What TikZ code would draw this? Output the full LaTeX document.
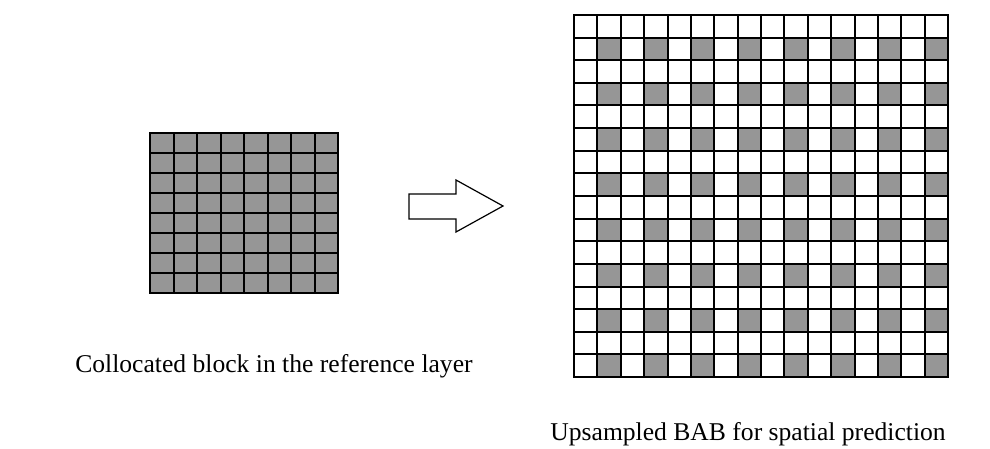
\documentclass[tikz,border=0pt]{standalone}
\usepackage{fontspec}
\setmainfont{Liberation Serif}
\usepackage{tikz}
\usetikzlibrary{positioning}
\definecolor{cellgray}{RGB}{150,150,150}

\begin{document}
\begin{tikzpicture}[
  x=0.5pt, y=-0.5pt,
  lcell/.style={draw, line width=1pt, fill=cellgray, inner sep=0pt, outer sep=0pt,
    minimum width=11.75pt, minimum height=10pt},
  rcell/.style={draw, line width=1pt, inner sep=0pt, outer sep=0pt,
    minimum width=11.6875pt, minimum height=11.3125pt},
  caption/.style={font=\fontsize{12.8}{15}\selectfont, inner sep=0pt}
]
  \useasboundingbox (0,0) rectangle (990,449);

  % Collocated 8x8 block
  \foreach \i in {0,...,7} {
    \foreach \j in {0,...,7} {
      \node[lcell] (l\i-\j) at ({150+23.5*(\j+0.5)}, {133+20*(\i+0.5)}) {};
    }
  }

  % Upsampled 16x16 block
  \foreach \i in {0,...,15} {
    \foreach \j in {0,...,15} {
      \pgfmathtruncatemacro\g{and(isodd(\i),isodd(\j))}
      \ifnum\g=1 \def\cf{cellgray}\else\def\cf{white}\fi
      \node[rcell, fill=\cf] (r\i-\j) at ({574+23.375*(\j+0.5)}, {15+22.625*(\i+0.5)}) {};
    }
  }

  % Block arrow
  \draw[line width=0.6pt] (409,194) -- (456,194) -- (456,180) -- (503,206)
    -- (456,232) -- (456,219) -- (409,219) -- cycle;

  % Captions
  \node[caption, anchor=base east] (lcap) at (473,372) {Collocated block in the reference layer};
  \node[caption, anchor=base west] (rcap) at (550,440) {Upsampled BAB for spatial prediction};
\end{tikzpicture}
\end{document}
